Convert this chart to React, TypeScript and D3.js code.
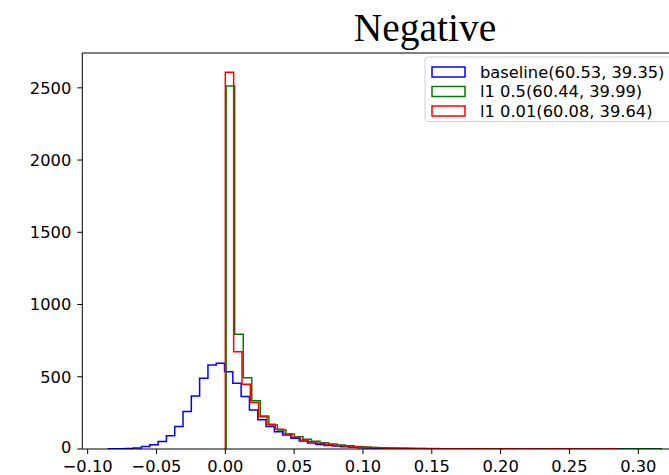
import React from "react";
import * as d3 from "d3";

const xTicks = [-0.1, -0.05, 0, 0.05, 0.1, 0.15, 0.2, 0.25, 0.3];
const yTicks = [0, 500, 1000, 1500, 2000, 2500];

const seriesNames = ["baseline(60.53, 39.35)", "l1 0.5(60.44, 39.99)", "l1 0.01(60.08, 39.64)"];
const seriesColors = ["#0000ff", "#008000", "#ff0000"];

// bin start and bin width for each series
const binStarts = [-0.085, 0.0006, 0.0];
const binWidths = [0.00603, 0.0062, 0.00605];

const baselineCounts = [
  1, 2, 4, 7, 18, 30, 52, 92, 155, 259, 367, 489, 581, 593, 535, 455, 364, 270, 203, 155,
  120, 97, 74, 55, 41, 32, 25, 20, 15, 12, 9, 7, 5, 4, 3, 3, 2, 2, 1, 1,
  1, 1, 0, 1, 0, 1, 0, 0, 1, 0, 0, 1, 1, 0, 0, 0, 1, 0, 0, 0,
  0, 1, 0, 0, 0, 1,
];
const l1HalfCounts = [
  2513, 794, 494, 334, 228, 166, 131, 104, 84, 68, 54, 44, 35, 28, 22, 18, 14, 11, 9, 7,
  6, 5, 4, 3, 3, 2, 2, 2, 1, 1, 1, 1, 1, 0, 1, 1, 0, 1, 0, 0,
  1, 0, 1, 0, 0, 1, 0, 0, 1, 0, 1,
];
const l1SmallCounts = [
  2608, 674, 448, 321, 224, 171, 136, 104, 81, 62, 51, 39, 31, 25, 20, 16, 12, 10, 8, 6,
  5, 4, 3, 3, 2, 2, 2, 1, 1, 1, 1, 1, 0, 1, 1, 0, 1, 0, 0, 1,
  0, 1, 0, 0, 1, 0, 1,
];

const allCounts = [baselineCounts, l1HalfCounts, l1SmallCounts];

const W = 669;
const H = 475;
const left = 82.3;
const right = 680;
const top = 53;
const bottom = 449;
const FONT = "DejaVu Sans, sans-serif";
const FS = 16.3;

export default function App() {
  const x = d3.scaleLinear().domain([-0.1039, 0.3303]).range([left, right]);
  const y = d3.scaleLinear().domain([0, 2741]).range([bottom, top]);

  const line = d3
    .line<[number, number]>()
    .x((d) => x(d[0]))
    .y((d) => y(d[1]));

  const paths = allCounts.map((counts, si) => {
    const s = binStarts[si];
    const w = binWidths[si];
    const pts: [number, number][] = [[s, 0]];
    counts.forEach((c, i) => {
      pts.push([s + i * w, c]);
      pts.push([s + (i + 1) * w, c]);
    });
    pts.push([s + counts.length * w, 0]);
    return line(pts) || "";
  });

  const legX = 425;
  const legY = 57;
  const rowH = 19.5;

  return (
    <svg
      width={W}
      height={H}
      style={{ position: "absolute", left: 0, top: 0, background: "#fff" }}
    >
      <defs>
        <clipPath id="plotclip">
          <rect x={left} y={top} width={right - left} height={bottom - top} />
        </clipPath>
      </defs>
      <rect x={0} y={0} width={W} height={H} fill="#fff" />
      <text
        x={425}
        y={41}
        textAnchor="middle"
        fontFamily="Liberation Serif, Times New Roman, serif"
        fontSize={39.5}
        fill="#000"
      >
        Negative
      </text>
      <g clipPath="url(#plotclip)">
        {paths.map((p, i) => (
          <path key={i} d={p} fill="none" stroke={seriesColors[i]} strokeWidth={1.5} strokeLinejoin="miter" />
        ))}
      </g>
      {/* spines */}
      <line x1={left} x2={right} y1={top} y2={top} stroke="#555" strokeWidth={1.3} />
      <line x1={left} x2={right} y1={bottom} y2={bottom} stroke="#000" strokeWidth={1} />
      <line x1={left} x2={left} y1={top} y2={bottom} stroke="#000" strokeWidth={1} />
      <line x1={right} x2={right} y1={top} y2={bottom} stroke="#000" strokeWidth={1} />
      {/* x ticks */}
      {xTicks.map((t) => (
        <g key={t} transform={`translate(${x(t)},${bottom})`}>
          <line y1={0} y2={5} stroke="#000" strokeWidth={1} />
          <text y={22.5} textAnchor="middle" fontFamily={FONT} fontSize={FS} fill="#000">
            {t < 0 ? "\u2212" + Math.abs(t).toFixed(2) : t.toFixed(2)}
          </text>
        </g>
      ))}
      {/* y ticks */}
      {yTicks.map((t) => (
        <g key={t} transform={`translate(${left},${y(t)})`}>
          <line x1={-5} x2={0} stroke="#000" strokeWidth={1} />
          <text x={-11} dy={t === 0 ? "0.24em" : "0.36em"} textAnchor="end" fontFamily={FONT} fontSize={FS} fill="#000">
            {t}
          </text>
        </g>
      ))}
      {/* legend */}
      <rect
        x={legX}
        y={legY}
        width={300}
        height={rowH * 3 + 6}
        rx={3}
        fill="#fff"
        fillOpacity={0.8}
        stroke="#d0d0d0"
        strokeWidth={1}
      />
      {seriesNames.map((name, i) => {
        const cy = legY + 15 + i * rowH;
        return (
          <g key={name}>
            <rect
              x={legX + 7}
              y={cy - 5}
              width={33}
              height={10}
              fill="none"
              stroke={seriesColors[i]}
              strokeWidth={1.5}
            />
            <text x={legX + 55} y={cy} dy="0.36em" fontFamily={FONT} fontSize={FS} fill="#000">
              {name}
            </text>
          </g>
        );
      })}
    </svg>
  );
}
